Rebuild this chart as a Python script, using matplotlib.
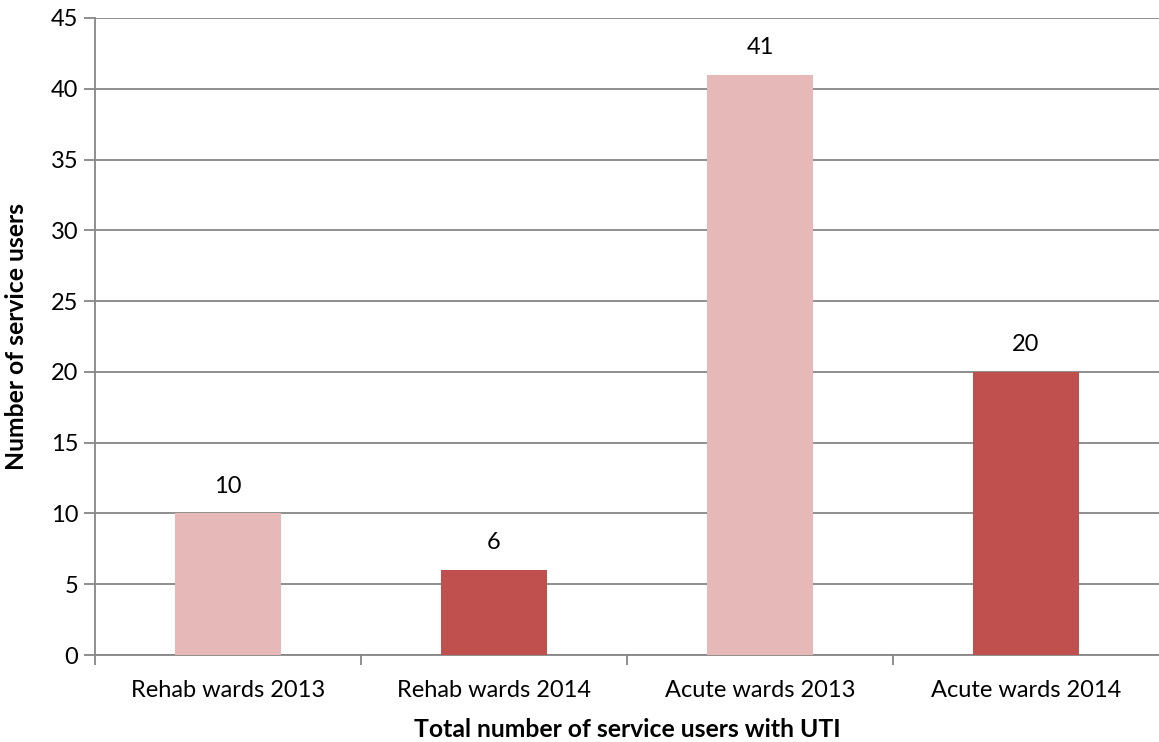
import matplotlib
matplotlib.use("Agg")
import matplotlib.pyplot as plt

categories = ["Rehab wards 2013", "Rehab wards 2014", "Acute wards 2013", "Acute wards 2014"]
values = [10, 6, 41, 20]
colors = ["#E6B9B8", "#C0504D", "#E6B9B8", "#C0504D"]

plt.rcParams["font.family"] = ["Lato", "DejaVu Sans"]
FS = 17
FS_TITLE = 17.8

fig = plt.figure(figsize=(11.59, 7.42), dpi=100)
ax = fig.add_axes([95 / 1159, 1 - 655 / 742, 1 - 95 / 1159, (655 - 18) / 742])

x = range(len(categories))
ax.bar(x, values, width=0.4, color=colors, zorder=3)
for xi, v in zip(x, values):
    ax.annotate(str(v), (xi, v), xytext=(0, 12), textcoords="offset points",
                ha="center", va="bottom", fontsize=FS, color="black")

ax.set_xlim(-0.5, len(categories) - 0.5)
ax.set_ylim(0, 45)
ax.set_yticks(range(0, 46, 5))
ax.yaxis.grid(True, color="#868686", linewidth=1.3, zorder=0)
ax.set_axisbelow(True)

ax.set_xticks(x)
ax.set_xticklabels(categories, fontsize=FS)
ax.tick_params(axis="x", length=0, pad=18)
# boundary ticks between categories
ax.set_xticks([i - 0.5 for i in range(len(categories))], minor=True)
ax.tick_params(axis="x", which="minor", length=7, width=1.3, color="#868686")
ax.tick_params(axis="y", length=8, width=1.3, color="#868686", labelsize=FS, pad=4)

for s in ["top", "right"]:
    ax.spines[s].set_visible(False)
for s in ["left", "bottom"]:
    ax.spines[s].set_color("#868686")
    ax.spines[s].set_linewidth(1.3)

ax.set_xlabel("Total number of service users with UTI", fontsize=FS_TITLE, fontweight="bold", labelpad=12)
ax.set_ylabel("Number of service users", fontsize=FS_TITLE, fontweight="bold", labelpad=16)

fig.savefig("out.png", dpi=100, facecolor="white")
